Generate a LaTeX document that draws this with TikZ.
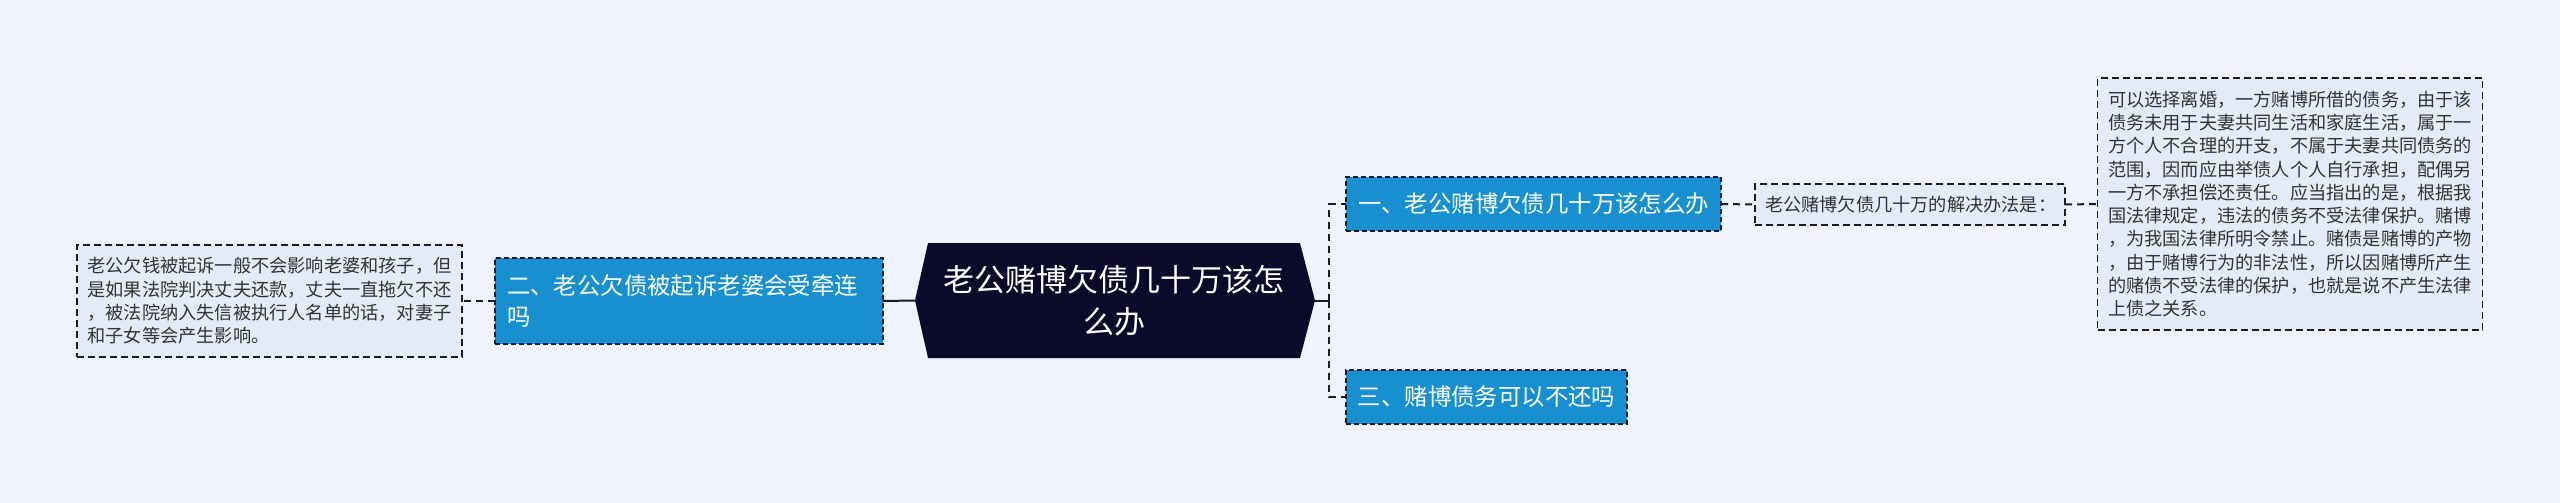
\documentclass[tikz,border=0pt]{standalone}
\usepackage{fontspec}
\setmainfont{Noto Sans CJK SC}
\pgfdeclarelayer{bg}
\pgfsetlayers{bg,main}
\definecolor{paper}{HTML}{EEF3FD}
\definecolor{hubfill}{HTML}{0C0A2A}
\definecolor{topicblue}{HTML}{1890D0}
\definecolor{memofill}{HTML}{E3EBF9}
\definecolor{edgedark}{HTML}{1A1A2E}
\definecolor{inkgray}{HTML}{333333}
\tikzset{
    every node/.style={inner sep=0pt, outer sep=0pt},
    hub/.style={rectangle, text=white, align=center, minimum width=372pt, minimum height=115pt, font=\fontsize{31}{42}\selectfont},
    topic/.style={rectangle, fill=topicblue, draw=edgedark, line width=1.4pt, dash pattern=on 5pt off 3pt, text=white, minimum height=54pt, font=\fontsize{23.4}{31}\selectfont},
    memo/.style={rectangle, fill=memofill, draw=edgedark, line width=1.6pt, dash pattern=on 7pt off 4pt, text=inkgray, align=left, text width=364pt, inner xsep=10.5pt, font=\fontsize{18.2}{23.3}\selectfont},
    link/.style={draw=edgedark, line width=2pt},
    dlink/.style={draw=edgedark, line width=2pt, dash pattern=on 7pt off 5pt}
}

\begin{document}
\begin{tikzpicture}[x=1pt, y=-1pt]
        \useasboundingbox (0,0) rectangle (2560,503);
        \node (v0) [hub] at (1114, 300.5) {老公赌博欠债几十万该怎\\么办};
        \node (v1) [topic, minimum width=375pt] at (1533.5, 204) {一、老公赌博欠债几十万该怎么办};
        \node (v2) [topic, minimum width=388pt, minimum height=86pt, text width=364pt, align=left] at (689, 301) {二、老公欠债被起诉老婆会受牵连\\吗};
        \node (v3) [topic, minimum width=281pt] at (1486.5, 397) {三、赌博债务可以不还吗};
        \node (v4) [memo, text width=290pt, inner xsep=10pt, minimum height=41pt] at (1910, 204.5) {老公赌博欠债几十万的解决办法是：};
        \node (v5) [memo, minimum height=252pt] at (2290, 204) {可以选择离婚，一方赌博所借的债务，由于该\\债务未用于夫妻共同生活和家庭生活，属于一\\方个人不合理的开支，不属于夫妻共同债务的\\范围，因而应由举债人个人自行承担，配偶另\\一方不承担偿还责任。应当指出的是，根据我\\国法律规定，违法的债务不受法律保护。赌博\\，为我国法律所明令禁止。赌债是赌博的产物\\，由于赌博行为的非法性，所以因赌博所产生\\的赌债不受法律的保护，也就是说不产生法律\\上债之关系。};
        \node (v6) [memo, minimum height=112pt] at (269.5, 301) {老公欠钱被起诉一般不会影响老婆和孩子，但\\是如果法院判决丈夫还款，丈夫一直拖欠不还\\，被法院纳入失信被执行人名单的话，对妻子\\和子女等会产生影响。};
        \coordinate (fork) at (1329, 300.5);
        \begin{pgfonlayer}{bg}
                \fill [paper] (0,0) rectangle (2560,503);
                \fill [hubfill] (v0.north west) -- (v0.north east) -- ([xshift=15pt]v0.east) -- (v0.south east) -- (v0.south west) -- ([xshift=-13pt]v0.west) -- cycle;
                \draw [link] ([xshift=-13pt]v0.west) -- (v2.east);
                \draw [link] ([xshift=15pt]v0.east) -- (fork);
                \draw [dlink] (fork) |- (v1.west);
                \draw [dlink] (fork) |- (v3.west);
                \draw [dlink] (v2.west) -- (v6.east);
                \draw [dlink] (v1.east) -- (v4.west);
                \draw [dlink] (v4.east) -- (v5.west);
        \end{pgfonlayer}
\end{tikzpicture}
\end{document}
